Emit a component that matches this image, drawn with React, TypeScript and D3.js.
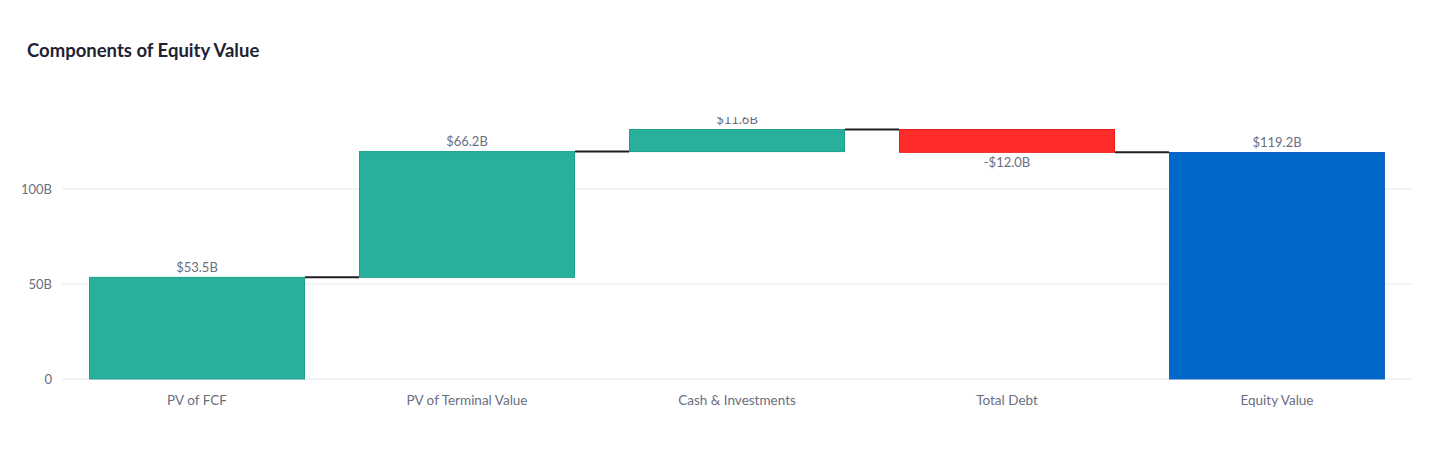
import React from "react";
import * as d3 from "d3";

const categories = ["PV of FCF", "PV of Terminal Value", "Cash & Investments", "Total Debt", "Equity Value"];
const values = [53.5, 66.2, 11.6, -12.0, 119.2];
const measures = ["relative", "relative", "relative", "relative", "total"];
const labels = ["$53.5B", "$66.2B", "$11.6B", "-$12.0B", "$119.2B"];
const yTicks = [0, 50, 100];
const yTickLabels = ["0", "50B", "100B"];

const W = 1456;
const H = 474;
const FONT = "Lato, 'Source Sans Pro', 'Noto Sans', sans-serif";

export default function App() {
  const left = 62, right = 1412, top = 114, bottom = 379;
  const clipTop = 117;
  const x = d3.scaleBand<string>().domain(categories).range([left, right]).paddingInner(0.2).paddingOuter(0.1);
  const yMax = (bottom - top) / 1.9;
  const y = d3.scaleLinear().domain([0, yMax]).range([bottom, top]);

  let cum = 0;
  const bars = categories.map((c, i) => {
    let base: number, end: number;
    if (measures[i] === "total") {
      base = 0;
      end = values[i];
      cum = values[i];
    } else {
      base = cum;
      end = cum + values[i];
      cum = end;
    }
    return { c, i, base, end, v: values[i], m: measures[i] };
  });

  const fillFor = (b: any) => (b.m === "total" ? "#0068c9" : b.v >= 0 ? "#29b09d" : "#ff2b2b");
  const strokeFor = (b: any) => (b.m === "total" ? "#1a62c4" : b.v >= 0 ? "#1fa08d" : "#e8201f");
  const bw = x.bandwidth();

  return (
    <svg width={W} height={H} style={{ position: "absolute", left: 0, top: 0, background: "#fff" }} fontFamily={FONT}>
      <defs>
        <clipPath id="plotclip">
          <rect x={left} y={clipTop} width={right - left} height={bottom - clipTop + 2} />
        </clipPath>
      </defs>
      <text x={27} y={57} fontSize={18.5} fontWeight={700} fill="#1f2233">Components of Equity Value</text>
      {yTicks.map((t, i) => (
        <g key={t}>
          <line x1={left} x2={right} y1={y(t)} y2={y(t)} stroke="#e3e7ef" strokeWidth={1} />
          <text x={52} y={y(t)} dy="0.35em" textAnchor="end" fontSize={13} fill="#6b6e80">{yTickLabels[i]}</text>
        </g>
      ))}
      <g clipPath="url(#plotclip)">
        {bars.slice(0, -1).map((b, i) => {
          const x1 = (x(b.c) as number) + bw;
          const x2 = x(categories[i + 1]) as number;
          return <line key={"c" + i} x1={x1} x2={x2} y1={y(b.end)} y2={y(b.end)} stroke="#1e1e24" strokeWidth={2} />;
        })}
        {bars.map((b) => {
          const y1 = y(Math.max(b.base, b.end));
          const y2 = y(Math.min(b.base, b.end));
          return (
            <rect key={b.c} x={(x(b.c) as number) + 0.5} y={y1} width={bw - 1} height={y2 - y1}
              fill={fillFor(b)} stroke={strokeFor(b)} strokeWidth={1} />
          );
        })}
        {bars.map((b) => {
          const cx = (x(b.c) as number) + bw / 2;
          const neg = b.v < 0;
          const ty = neg ? y(b.end) + 15 : y(Math.max(b.base, b.end)) - 5.5;
          return (
            <text key={"l" + b.c} x={cx} y={ty} textAnchor="middle" fontSize={13} fill="#6b6e80">{labels[b.i]}</text>
          );
        })}
      </g>
      {categories.map((c) => (
        <text key={"x" + c} x={(x(c) as number) + bw / 2} y={405} textAnchor="middle" fontSize={13.5} fill="#6b6e80">{c}</text>
      ))}
    </svg>
  );
}
